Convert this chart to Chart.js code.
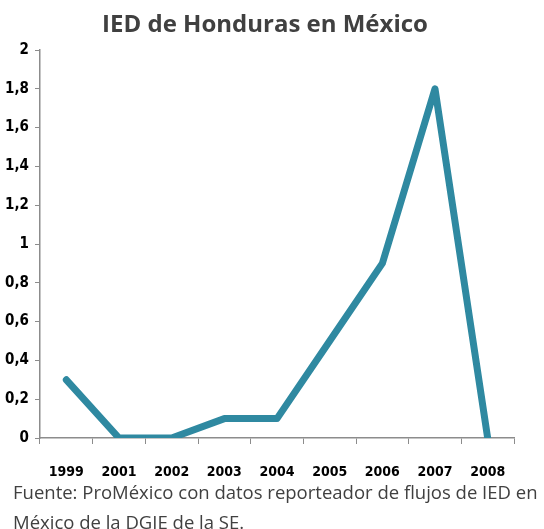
<!DOCTYPE html>
<html>
<head>
<meta charset="utf-8">
<script src="https://cdn.jsdelivr.net/npm/chart.js@4/dist/chart.umd.min.js"></script>
<style>
  body { margin: 0; background: #fff; }
  #caja { position: relative; width: 544px; height: 529px; }
  #fuente {
    position: absolute; left: 13px; top: 477px;
    font: 18.5px "Open Sans", sans-serif; color: #404040;
    line-height: 30px; white-space: nowrap;
  }
</style>
</head>
<body>
<div id="caja">
  <canvas id="grafico" width="544" height="529"></canvas>
  <div id="fuente">Fuente: ProMéxico con datos reporteador de flujos de IED en<br>México de la DGIE de la SE.</div>
</div>
<script>
const anios = ['1999', '2001', '2002', '2003', '2004', '2005', '2006', '2007', '2008'];
const valoresIED = [0.3, 0, 0, 0.1, 0.1, 0.5, 0.9, 1.8, 0];
const etiquetasY = ['0', '0,2', '0,4', '0,6', '0,8', '1', '1,2', '1,4', '1,6', '1,8', '2'];
const titulo = 'IED de Honduras en México';

const fuenteEjes = "'DejaVu Sans Condensed', sans-serif";
const grisEje = '#8c8c8c';

// el titulo va un poco a la derecha del centro del area, lo dibujo a mano
const pluginTitulo = {
    id: 'titulo',
    afterDraw(chart) {
        const c = chart.ctx;
        c.save();
        c.font = "bold 24px 'Open Sans', sans-serif";
        c.fillStyle = '#404040';
        c.textAlign = 'center';
        c.textBaseline = 'middle';
        c.fillText(titulo, 265, 25);
        c.restore();
    }
};

const ctx = document.getElementById('grafico').getContext('2d');

new Chart(ctx, {
    type: 'line',
    data: {
        labels: anios,
        datasets: [{
            data: valoresIED,
            borderColor: '#2f89a1',
            borderWidth: 7,
            borderCapStyle: 'round',
            borderJoinStyle: 'round',
            pointRadius: 0,
            tension: 0,
            fill: false
        }]
    },
    options: {
        responsive: false,
        animation: false,
        layout: { padding: { left: 0, right: 30, top: 50, bottom: 46 } },
        plugins: {
            legend: { display: false },
            tooltip: { enabled: false },
            title: { display: false }
        },
        scales: {
            x: {
                offset: true,
                grid: { display: true, drawOnChartArea: false, offset: true, color: grisEje, tickLength: 6 },
                border: { color: grisEje, width: 1.5 },
                ticks: {
                    color: '#000',
                    padding: 20,
                    maxRotation: 0,
                    font: { family: fuenteEjes, size: 14, weight: 'bold' }
                },
                afterFit: scale => { scale.height = 45; }
            },
            y: {
                min: 0,
                max: 2,
                grid: { display: true, drawOnChartArea: false, color: grisEje, tickLength: 5 },
                border: { color: grisEje, width: 1.5 },
                ticks: {
                    stepSize: 0.2,
                    color: '#000',
                    padding: 6,
                    font: { family: fuenteEjes, size: 15, weight: 'bold' },
                    callback: (v, i) => etiquetasY[i]
                },
                afterFit: scale => { scale.width = 40; }
            }
        }
    },
    plugins: [pluginTitulo]
});
</script>
</body>
</html>
